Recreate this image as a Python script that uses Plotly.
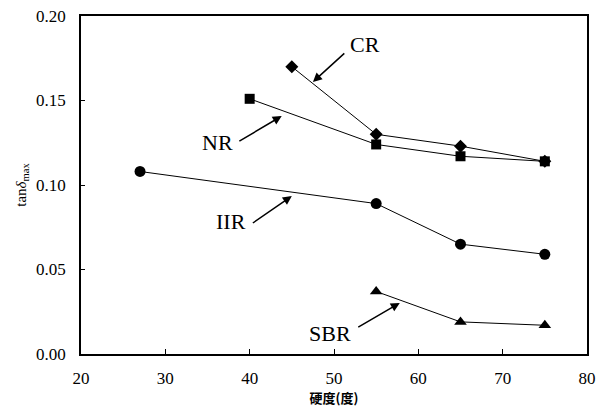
import plotly.graph_objects as go

cr_x = [45, 55, 65, 75]
cr_y = [0.170, 0.130, 0.123, 0.114]
nr_x = [40, 55, 65, 75]
nr_y = [0.151, 0.124, 0.117, 0.114]
iir_x = [27, 55, 65, 75]
iir_y = [0.108, 0.089, 0.065, 0.059]
sbr_x = [55, 65, 75]
sbr_y = [0.037, 0.019, 0.017]

x_ticks = [20, 30, 40, 50, 60, 70, 80]
y_ticks = [0.00, 0.05, 0.10, 0.15, 0.20]
y_tick_text = ["0.00", "0.05", "0.10", "0.15", "0.20"]

series = [
    ("CR", cr_x, cr_y, "diamond", 10),
    ("NR", nr_x, nr_y, "square", 10),
    ("IIR", iir_x, iir_y, "circle", 11),
    ("SBR", sbr_x, sbr_y, "triangle-up", 11),
]

fig = go.Figure()
for name, xs, ys, sym, sz in series:
    fig.add_trace(go.Scatter(
        x=xs, y=ys, mode="lines+markers", name=name,
        line=dict(color="black", width=1),
        marker=dict(symbol=sym, size=sz, color="black"),
        showlegend=False,
    ))

# label text (x, y) and arrow (tail -> head) in data coords
labels = [
    ("CR", 53.7, 0.183, 51.4, 0.1787, 47.5, 0.161),
    ("NR", 36.2, 0.1254, 38.6, 0.1254, 43.8, 0.1408),
    ("IIR", 37.8, 0.0787, 40.2, 0.0769, 45.0, 0.0935),
    ("SBR", 49.5, 0.0124, 52.7, 0.0154, 57.8, 0.0302),
]
font_serif = "Liberation Serif"
for text, tx, ty, ax, ay, hx, hy in labels:
    fig.add_annotation(x=tx, y=ty, text=text, showarrow=False,
                       font=dict(family=font_serif, size=22, color="black"))
    fig.add_annotation(x=hx, y=hy, ax=ax, ay=ay, axref="x", ayref="y",
                       text="", showarrow=True, arrowhead=2, arrowsize=1.2,
                       arrowwidth=1.5, arrowcolor="black", standoff=0, startstandoff=0)

fig.update_layout(
    width=603, height=410,
    margin=dict(l=81, r=16, t=16, b=56),
    paper_bgcolor="white", plot_bgcolor="white",
    font=dict(family=font_serif, size=16, color="black"),
)
fig.update_xaxes(
    range=[20, 80], tickvals=x_ticks, ticks="inside", ticklen=5, tickcolor="black",
    showline=True, linecolor="black", linewidth=1.5, mirror=True, showgrid=False, zeroline=False,
    tickfont=dict(family=font_serif, size=17), ticklabelstandoff=8,
    title=dict(text="<b>硬度(度)</b>", font=dict(family="Noto Sans CJK SC", size=13), standoff=0),
    automargin=False,
)
fig.update_yaxes(
    range=[0, 0.20], tickvals=y_ticks, ticktext=y_tick_text, ticks="inside", ticklen=4, tickcolor="black",
    showline=True, linecolor="black", linewidth=1.5, mirror=True, showgrid=False, zeroline=False,
    tickfont=dict(family=font_serif, size=17), ticklabelstandoff=10,
    title=dict(text="tan<i>δ</i><sub>max</sub>", font=dict(family=font_serif, size=15), standoff=6),
    automargin=False,
)

fig.write_html("out.html", config={"displayModeBar": False},
               post_script="document.body.style.margin='0';")
